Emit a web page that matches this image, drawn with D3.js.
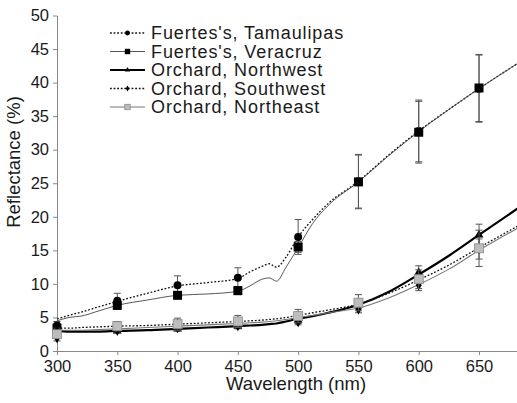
<!DOCTYPE html>
<html>
<head>
<meta charset="utf-8">
<script src="https://cdn.jsdelivr.net/npm/d3@7"></script>
<style>
  body { margin: 0; background: #fff; }
  text { font-family: "Liberation Sans", Arial, sans-serif; fill: #1a1a1a; }
</style>
</head>
<body>
<div id="chart"></div>
<script>
// spectrum sample wavelengths (nm)
const wavelengths = [300, 310, 320, 335, 350, 375, 400, 425, 450, 460, 470, 476, 482, 490, 500, 512, 525, 550, 575, 600, 625, 650, 685];
const tamaulipas = [4.8, 5.3, 5.8, 6.6, 7.4, 8.6, 9.7, 10.2, 10.8, 11.8, 12.6, 13.0, 12.5, 14.0, 17.0, 19.6, 22.0, 25.3, 29.2, 32.8, 36.0, 39.1, 43.2];
const veracruz   = [4.5, 5.0, 5.2, 6.0, 6.8, 7.6, 8.3, 8.5, 8.9, 9.7, 10.7, 10.9, 10.4, 12.5, 15.4, 19.0, 21.7, 25.2, 29.1, 32.7, 36.0, 39.1, 43.2];
const northwest  = [3.0, 2.9, 2.9, 2.9, 3.0, 3.1, 3.3, 3.5, 3.7, 3.8, 3.9, 4.0, 4.1, 4.4, 4.8, 5.2, 5.7, 6.9, 8.8, 11.4, 14.2, 17.3, 21.6];
const southwest  = [3.4, 3.4, 3.5, 3.6, 3.7, 3.8, 4.0, 4.2, 4.4, 4.5, 4.6, 4.7, 4.8, 5.0, 5.3, 5.7, 6.1, 7.0, 8.6, 10.6, 12.8, 15.4, 18.9];
const northeast  = [3.1, 3.1, 3.1, 3.2, 3.3, 3.5, 3.7, 3.9, 4.1, 4.2, 4.3, 4.4, 4.5, 4.7, 5.0, 5.3, 5.7, 6.4, 7.9, 9.9, 12.2, 15.0, 18.6];

// marker wavelengths, means and error bars
const markerWl = [300, 350, 400, 450, 500, 550, 600, 650];
const tamMean = [3.8, 7.5, 9.8, 10.9, 17.0, 25.3, 32.8, 39.1];
const tamErr  = [0.6, 1.1, 1.4, 1.5, 2.6, 4.0, 4.6, 5.0];
const verMean = [3.4, 6.8, 8.3, 9.0, 15.5, 25.2, 32.6, 39.2];
const verErr  = [0.5, 0.6, 0.5, 0.6, 0.8, 4.0, 4.6, 5.0];
const nwMean  = [3.0, 3.0, 3.3, 3.7, 4.6, 6.9, 11.7, 17.3];
const nwErr   = [0.4, 0.3, 0.3, 0.4, 0.5, 0.6, 1.0, 1.6];
const swMean  = [1.9, 3.0, 3.4, 3.7, 4.3, 6.2, 9.8, 15.2];
const swErr   = [0.4, 0.3, 0.3, 0.3, 0.4, 0.5, 0.8, 1.5];
const neMean  = [2.5, 3.7, 4.0, 4.4, 5.2, 7.2, 10.7, 15.3];
const neErr   = [0.5, 0.7, 0.9, 0.9, 1.0, 1.2, 1.4, 2.7];

const xTicks = [300, 350, 400, 450, 500, 550, 600, 650];
const yTicks = [0, 5, 10, 15, 20, 25, 30, 35, 40, 45, 50];

const series = [
  { name: "Fuertes's, Tamaulipas", line: tamaulipas, mean: tamMean, err: tamErr, stroke: "#111", width: 1.3, dash: "1.8,1.8", marker: "circle" },
  { name: "Fuertes's, Veracruz", line: veracruz, mean: verMean, err: verErr, stroke: "#444", width: 0.9, dash: null, marker: "square" },
  { name: "Orchard, Northwest", line: northwest, mean: nwMean, err: nwErr, stroke: "#000", width: 2.2, dash: null, marker: "triangle" },
  { name: "Orchard, Southwest", line: southwest, mean: swMean, err: swErr, stroke: "#111", width: 1.3, dash: "1.8,1.8", marker: "diamond" },
  { name: "Orchard, Northeast", line: northeast, mean: neMean, err: neErr, stroke: "#777", width: 1.1, dash: null, marker: "gsquare" }
];

const width = 517, height = 403;
const svg = d3.select("#chart").append("svg").attr("width", width).attr("height", height);

const x = d3.scaleLinear().domain([300, 682]).range([57, 517.6]);
const y = d3.scaleLinear().domain([0, 50]).range([351, 15.5]);

// axes
const yAxis = svg.append("g").attr("transform", "translate(57,0)")
  .call(d3.axisLeft(y).tickValues(yTicks).tickSize(4).tickSizeOuter(0).tickPadding(4));
const xAxis = svg.append("g").attr("transform", "translate(0,351)")
  .call(d3.axisBottom(x).tickValues(xTicks).tickSize(4).tickSizeOuter(0).tickPadding(5));
[xAxis, yAxis].forEach(g => {
  g.selectAll("path, line").attr("stroke", "#888");
  g.selectAll("text").style("font-size", "16.5px").attr("fill", "#1a1a1a");
});

// axis titles
svg.append("text").attr("text-anchor", "middle").attr("x", 296).attr("y", 390)
  .style("font-size", "18.5px").text("Wavelength (nm)");
svg.append("text").attr("text-anchor", "middle")
  .attr("transform", "translate(20,162) rotate(-90)")
  .style("font-size", "18.5px").text("Reflectance (%)");

// draw lines
const line = d3.line().x(d => x(d[0])).y(d => y(d[1])).curve(d3.curveMonotoneX);
series.forEach(s => {
  svg.append("path").datum(wavelengths.map((w, i) => [w, s.line[i]]))
    .attr("fill", "none").attr("stroke", s.stroke).attr("stroke-width", s.width)
    .attr("stroke-dasharray", s.dash).attr("d", line);
});

function drawMarker(g, type, cx, cy, scale) {
  const k = scale || 1;
  if (type === "circle") {
    g.append("circle").attr("cx", cx).attr("cy", cy).attr("r", 4 * k).attr("fill", "#000");
  } else if (type === "square") {
    g.append("rect").attr("x", cx - 4.5 * k).attr("y", cy - 4.5 * k).attr("width", 9 * k).attr("height", 9 * k).attr("fill", "#000");
  } else if (type === "gsquare") {
    g.append("rect").attr("x", cx - 4.5 * k).attr("y", cy - 4.5 * k).attr("width", 9 * k).attr("height", 9 * k)
      .attr("fill", "#bdbdbd").attr("stroke", "#8a8a8a").attr("stroke-width", 0.8);
  } else if (type === "triangle") {
    g.append("path").attr("d", d3.symbol(d3.symbolTriangle, 34 * k * k)()).attr("transform", `translate(${cx},${cy})`).attr("fill", "#000");
  } else if (type === "diamond") {
    g.append("path").attr("d", d3.symbol(d3.symbolDiamond, 30 * k * k)()).attr("transform", `translate(${cx},${cy})`).attr("fill", "#000");
  }
}

// error bars and markers
series.forEach(s => {
  const g = svg.append("g");
  markerWl.forEach((w, i) => {
    const cx = x(w), top = y(s.mean[i] + s.err[i]), bot = y(s.mean[i] - s.err[i]);
    g.append("line").attr("x1", cx).attr("x2", cx).attr("y1", top).attr("y2", bot).attr("stroke", "#555").attr("stroke-width", 1);
    g.append("line").attr("x1", cx - 3.5).attr("x2", cx + 3.5).attr("y1", top).attr("y2", top).attr("stroke", "#555");
    g.append("line").attr("x1", cx - 3.5).attr("x2", cx + 3.5).attr("y1", bot).attr("y2", bot).attr("stroke", "#555");
  });
  markerWl.forEach((w, i) => drawMarker(g, s.marker, x(w), y(s.mean[i])));
});

// legend
const legend = svg.append("g");
series.forEach((s, i) => {
  const ly = 33 + i * 18.5;
  legend.append("line").attr("x1", 110).attr("x2", 145).attr("y1", ly).attr("y2", ly)
    .attr("stroke", s.stroke).attr("stroke-width", s.width).attr("stroke-dasharray", s.dash);
  drawMarker(legend, s.marker, 127.5, ly, 0.6);
  legend.append("text").attr("x", 151).attr("y", ly).attr("dy", "0.36em")
    .style("font-size", "18px").style("letter-spacing", "0.9px").text(s.name);
});
</script>
</body>
</html>
